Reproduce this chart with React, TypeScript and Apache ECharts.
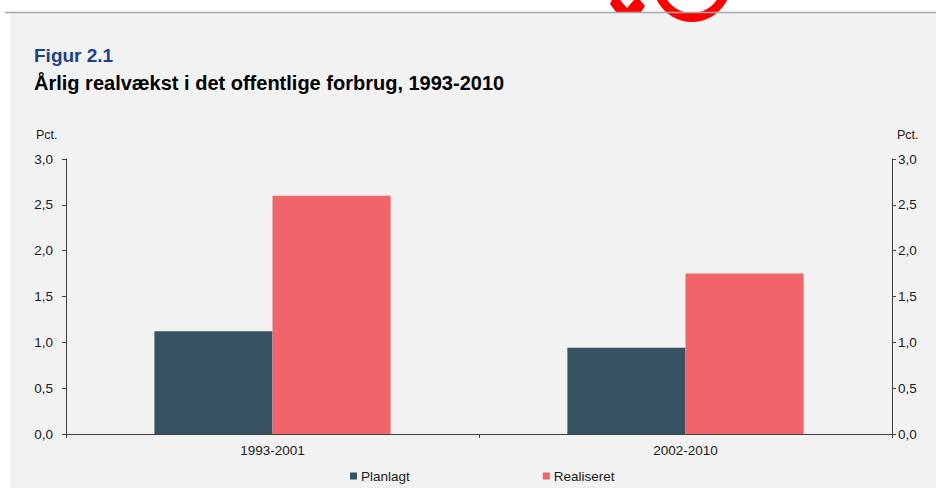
import React, { useEffect, useRef } from "react";
import * as echarts from "echarts";

const categories = ["1993-2001", "2002-2010"];
const planlagt = [1.12, 0.94];
const realiseret = [2.6, 1.75];
const seriesNames = ["Planlagt", "Realiseret"];
const yTicks = { min: 0, max: 3, interval: 0.5 };
const titleText = "Figur 2.1";
const subtitleText = "Årlig realvækst i det offentlige forbrug, 1993-2010";
const unitText = "Pct.";

const FONT = "'Liberation Sans', Arial, Helvetica, sans-serif";
const AXIS = "#404040";
const TXT = "#1a1a1a";
const FS = 13.5;

export default function App() {
  const ref = useRef<HTMLDivElement>(null);
  useEffect(() => {
    if (!ref.current) return;
    const chart = echarts.init(ref.current, null, { renderer: "svg" });
    const fmt = (v: number) => v.toFixed(1).replace(".", ",");
    const yAxisBase = (pos: "left" | "right", margin: number) => ({
      type: "value" as const,
      position: pos,
      min: yTicks.min,
      max: yTicks.max,
      interval: yTicks.interval,
      axisLine: { show: true, lineStyle: { color: AXIS, width: 1 } },
      axisTick: { show: true, length: 4, lineStyle: { color: AXIS } },
      splitLine: { show: false },
      axisLabel: {
        margin,
        color: TXT,
        fontSize: FS,
        fontFamily: FONT,
        formatter: fmt,
      },
    });
    chart.setOption({
      animation: false,
      backgroundColor: "#f2f2f2",
      textStyle: { fontFamily: FONT },
      grid: { left: 66, right: 44, top: 159, bottom: 54, containLabel: false },
      xAxis: {
        type: "category",
        data: categories,
        axisLine: { lineStyle: { color: AXIS, width: 1 } },
        axisTick: { show: true, length: 4, lineStyle: { color: AXIS } },
        axisLabel: { color: TXT, fontSize: FS, fontFamily: FONT, margin: 9 },
      },
      yAxis: [yAxisBase("left", 13), yAxisBase("right", 6)],
      legend: {
        left: 350,
        top: 469,
        padding: 0,
        itemWidth: 7,
        itemHeight: 7,
        itemGap: 133,
        icon: "rect",
        textStyle: { color: TXT, fontSize: FS, fontFamily: FONT, padding: [0, 0, 0, -1] },
        data: seriesNames,
      },
      series: [
        {
          name: seriesNames[0],
          type: "bar",
          data: planlagt,
          barWidth: "28.6%",
          barGap: "0%",
          itemStyle: { color: "#365263" },
        },
        {
          name: seriesNames[1],
          type: "bar",
          data: realiseret,
          barWidth: "28.6%",
          barGap: "0%",
          itemStyle: { color: "#f0646a" },
        },
      ],
      graphic: [
        { type: "rect", shape: { x: 0, y: 0, width: 936, height: 12 }, style: { fill: "#ffffff" }, silent: true },
        { type: "rect", shape: { x: 0, y: 0, width: 10, height: 488 }, style: { fill: "#ffffff" }, silent: true },
        {
          type: "polygon",
          shape: { points: [[612, 0], [620, 0], [627, 8], [634, 0], [640, 0], [645, 6], [641, 12], [616, 12], [610, 4]] },
          style: { fill: "#ff0000" },
          silent: true,
        },
        {
          type: "ring",
          shape: { cx: 692, cy: -17, r: 39, r0: 30 },
          style: { fill: "#ff0000" },
          silent: true,
        },
        {
          type: "line",
          shape: { x1: 5, y1: 12.5, x2: 936, y2: 12.5 },
          style: { stroke: "#a6a6a6", lineWidth: 1.5 },
          silent: true,
        },
        {
          type: "text",
          left: 34,
          top: 46,
          style: { text: titleText, fill: "#1b418d", font: `bold 19px ${FONT}` },
          silent: true,
        },
        {
          type: "text",
          left: 34,
          top: 73,
          style: { text: subtitleText, fill: "#000000", font: `bold 20px ${FONT}` },
          silent: true,
        },
        {
          type: "text",
          left: 36,
          top: 128,
          style: { text: unitText, fill: TXT, font: `12.5px ${FONT}` },
          silent: true,
        },
        {
          type: "text",
          left: 897,
          top: 128,
          style: { text: unitText, fill: TXT, font: `12.5px ${FONT}` },
          silent: true,
        },
      ],
    });
    return () => chart.dispose();
  }, []);
  return (
    <div
      ref={ref}
      style={{ position: "absolute", left: 0, top: 0, width: 936, height: 488 }}
    />
  );
}
